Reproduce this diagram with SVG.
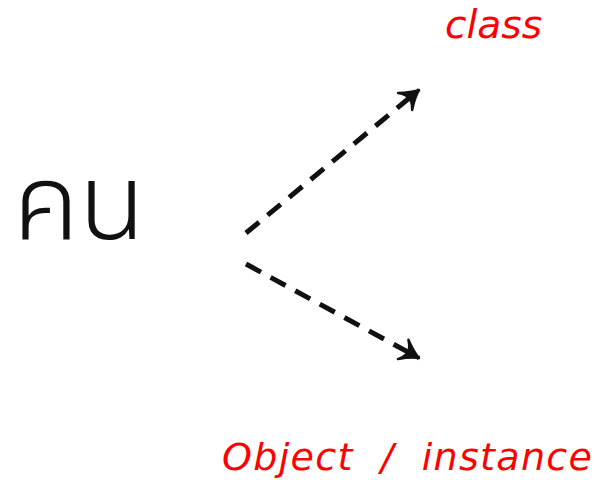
<svg xmlns="http://www.w3.org/2000/svg" width="600" height="480" viewBox="0 0 600 480">
<defs>
<style>
.lbl{font-family:"DejaVu Sans","Liberation Sans",sans-serif;font-style:italic;fill:#ff0000;}
.edge{fill:none;stroke:#111;stroke-width:5;stroke-dasharray:17,11;}
</style>
<marker id="ah" viewBox="-22 -14 24 28" markerWidth="24" markerHeight="28" refX="0" refY="0" orient="auto" markerUnits="userSpaceOnUse">
<path d="M-18,-11 Q-8,-3 0,0 Q-8,3 -18,11 Q-12,4 -13,0 Q-12,-4 -18,-11 Z" fill="#111" stroke="#111" stroke-width="2.5" stroke-linejoin="round"/>
</marker>
</defs>
<rect width="600" height="480" fill="#fff"/>
<g id="node-person">
<text x="13" y="239" font-family="'Noto Sans Thai','Noto Sans','DejaVu Sans',sans-serif" font-size="106" font-weight="300" fill="#111" textLength="132" lengthAdjust="spacingAndGlyphs">คน</text>
</g>
<g id="node-class">
<text class="lbl" x="445" y="38" font-size="39" textLength="97" lengthAdjust="spacingAndGlyphs">class</text>
</g>
<g id="node-object">
<text class="lbl" x="222" y="470" font-size="38" textLength="370" lengthAdjust="spacing" xml:space="preserve">Object  /  instance</text>
</g>
<g id="connectors">
<path class="edge" d="M246,233 L419,90" marker-end="url(#ah)"/>
<path class="edge" d="M246,264 L419,358" marker-end="url(#ah)"/>
</g>
</svg>
